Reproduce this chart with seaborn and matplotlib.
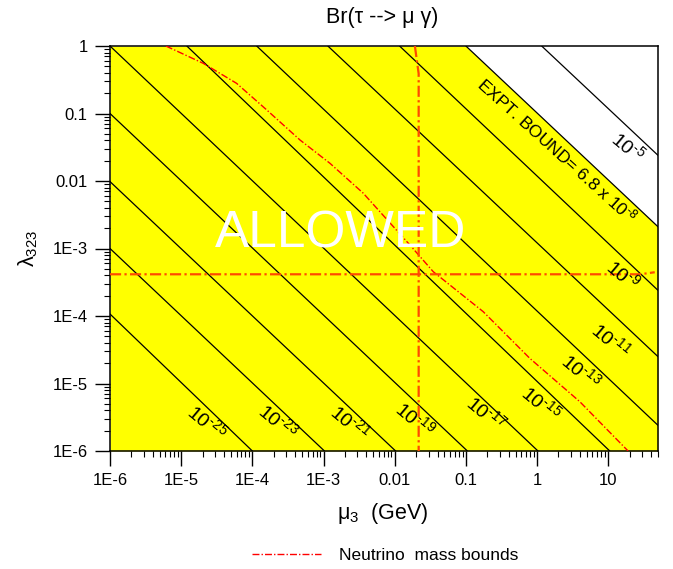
import pandas as pd
import matplotlib
matplotlib.use('Agg')
import matplotlib.pyplot as plt
from matplotlib.ticker import FixedLocator, LogLocator, NullFormatter
from matplotlib.lines import Line2D
import seaborn as sns

# Contour lines of Br(tau -> mu gamma): end points (mu3, lambda323)
levels = ['1e-25', '1e-23', '1e-21', '1e-19', '1e-17', '1e-15',
          '1e-13', '1e-11', '1e-9', 'bound', '1e-5']
mu_start = [1e-6, 1e-6, 1e-6, 1e-6, 1e-6, 1.2e-5, 1.15e-4, 1.15e-3, 1.17e-2, 0.10, 1.16]
lam_start = [1.07e-4, 1.0e-3, 9.8e-3, 0.1, 1.0, 1.0, 1.0, 1.0, 1.0, 1.0, 1.0]
mu_end = [1.0e-4, 1.03e-3, 1.03e-2, 0.105, 1.03, 10.5, 50, 50, 50, 50, 50]
lam_end = [1e-6, 1e-6, 1e-6, 1e-6, 1e-6, 1e-6, 2.4e-6, 2.5e-5, 2.4e-4, 2.1e-3, 0.024]

# Neutrino mass bounds (red dash-dot)
nu_mu = [6.1e-6, 2.04e-5, 6.0e-5, 1.59e-4, 4.67e-4, 1.23e-3, 3.61e-3,
         0.0163, 0.0348, 0.175, 0.79, 3.99, 19.0]
nu_lam = [1.0, 0.554, 0.28, 0.113, 0.0405, 0.0183, 6.6e-3,
          1.13e-3, 4.53e-4, 1.16e-4, 2.36e-5, 5.37e-6, 1.0e-6]
vert_mu = [0.0192, 0.0217, 0.0217]
vert_lam = [1.0, 0.39, 1e-6]
horiz_mu = [1e-6, 28, 45]
horiz_lam = [4.15e-4, 4.15e-4, 4.45e-4]

# tick labels
x_ticks = [1e-6, 1e-5, 1e-4, 1e-3, 1e-2, 1e-1, 1, 10]
x_ticklabels = ['1E-6', '1E-5', '1E-4', '1E-3', '0.01', '0.1', '1', '10']
y_ticks = [1e-6, 1e-5, 1e-4, 1e-3, 1e-2, 1e-1, 1]
y_ticklabels = ['1E-6', '1E-5', '1E-4', '1E-3', '0.01', '0.1', '1']

sns.set_style('ticks')
plt.rcParams['font.family'] = ['Liberation Sans', 'DejaVu Sans']
plt.rcParams['mathtext.fontset'] = 'custom'
plt.rcParams['mathtext.rm'] = 'Liberation Sans'
plt.rcParams['mathtext.it'] = 'Liberation Sans:italic'
plt.rcParams['mathtext.default'] = 'regular'
plt.rcParams['text.color'] = 'black'
plt.rcParams['axes.labelcolor'] = 'black'
plt.rcParams['xtick.color'] = 'black'
plt.rcParams['ytick.color'] = 'black'

df = pd.DataFrame({
    'level': levels + levels,
    'mu': mu_start + mu_end,
    'lam': lam_start + lam_end,
})

fig = plt.figure(figsize=(6.73, 5.69), dpi=100)
ax = fig.add_axes([110 / 673, 1 - 451 / 569, 548 / 673, 405 / 569])
ax.set_xscale('log')
ax.set_yscale('log')

# allowed region below the experimental bound
b = levels.index('bound')
ax.fill_between([1e-6, mu_start[b], mu_end[b]], 1e-6,
                [1.0, lam_start[b], lam_end[b]], color='#ffff00', lw=0, zorder=0)

sns.lineplot(data=df, x='mu', y='lam', units='level', estimator=None, sort=False,
             color='black', lw=0.9, legend=False, ax=ax, zorder=2)

red_dash = (5, 1.5, 1, 1.5)
ax.plot(nu_mu, nu_lam, color='red', lw=1.0, dashes=red_dash, zorder=3)
ax.plot(vert_mu, vert_lam, color='#ff4a00', lw=1.6, dashes=red_dash, zorder=3)
ax.plot(horiz_mu, horiz_lam, color='#ff4a00', lw=1.6, dashes=red_dash, zorder=3)

ax.set_xlim(1e-6, 50)
ax.set_ylim(1e-6, 1)

ax.xaxis.set_major_locator(FixedLocator(x_ticks))
ax.set_xticklabels(x_ticklabels)
ax.yaxis.set_major_locator(FixedLocator(y_ticks))
ax.set_yticklabels(y_ticklabels)
ax.xaxis.set_minor_locator(LogLocator(base=10, subs=range(2, 10), numticks=20))
ax.yaxis.set_minor_locator(LogLocator(base=10, subs=range(2, 10), numticks=20))
ax.xaxis.set_minor_formatter(NullFormatter())
ax.yaxis.set_minor_formatter(NullFormatter())
ax.tick_params(which='major', direction='out', length=11, width=1, labelsize=12, pad=5,
               color='black', labelcolor='black')
ax.tick_params(which='minor', direction='out', length=4.5, width=0.8, color='black')
ax.tick_params(top=False, right=False, which='both')
for s in ax.spines.values():
    s.set_linewidth(1.1)
    s.set_color('black')
ax.set_xlabel('')
ax.set_ylabel('')

# contour labels (axes coordinates)
labels = [('25', 0.177, 0.070), ('23', 0.307, 0.074),
          ('21', 0.438, 0.072), ('19', 0.557, 0.079),
          ('17', 0.686, 0.094), ('15', 0.786, 0.117),
          ('13', 0.860, 0.196), ('11', 0.914, 0.273),
          ('9', 0.936, 0.435), ('5', 0.945, 0.752)]
for exp, x, y in labels:
    ax.text(x, y, r'$10^{‐' + exp + '}$', transform=ax.transAxes, fontsize=14,
            rotation=-40, ha='center', va='center', rotation_mode='anchor', zorder=4)
ax.text(0.816, 0.743, r'EXPT. BOUND= 6.8 x $10^{‐8}$', transform=ax.transAxes,
        fontsize=12.5, rotation=-42, ha='center', va='center', rotation_mode='anchor', zorder=4)
ax.text(0.42, 0.536, 'ALLOWED', transform=ax.transAxes, fontsize=37, color='white',
        ha='center', va='center', zorder=4)

fig.text(0.568, 1 - 18 / 569, 'Br(τ --> μ γ)', fontsize=15.5, ha='center', va='center')
fig.text(0.568, 1 - 514 / 569, r'$\mu_3$  (GeV)', fontsize=15.5, ha='center', va='center')
fig.text(28 / 673, 1 - 248 / 569, r'$\lambda_{323}$', fontsize=15.5, rotation=90,
         ha='center', va='center')

handle = Line2D([], [], color='red', lw=1.0, dashes=red_dash)
fig.legend([handle], ['Neutrino  mass bounds'], loc='center',
           bbox_to_anchor=(0.572, 1 - 555 / 569), frameon=False, fontsize=12.5,
           handlelength=4.0, handletextpad=1.0)

fig.savefig('out.png', dpi=100)
